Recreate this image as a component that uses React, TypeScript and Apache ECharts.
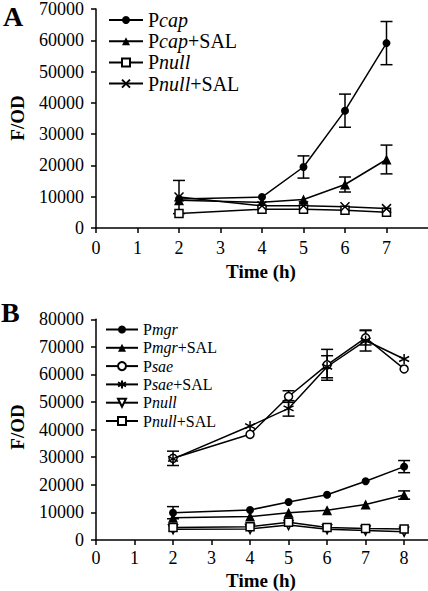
import React, { useEffect, useRef } from "react";
import * as echarts from "echarts";

// Panel A
const timeA = [2, 4, 5, 6, 7];
const pcap = [9300, 9900, 19500, 37500, 59100];
const pcapErr = [0, 0, 3550, 5300, 6900];
const pcapSal = [8900, 8200, 9100, 13900, 21900];
const pcapSalErr = [0, 0, 0, 2400, 4600];
const pnullA = [4650, 6000, 6000, 5700, 5000];
const pnullAErr = [0, 0, 0, 0, 0];
const pnullSalA = [9900, 7100, 7100, 6800, 6200];
const pnullSalAErr = [5300, 0, 0, 0, 0];

// Panel B
const timeB = [2, 4, 5, 6, 7, 8];
const pmgr = [9900, 10900, 13800, 16400, 21300, 26600];
const pmgrErr = [2200, 0, 0, 0, 0, 2200];
const pmgrSal = [8100, 8500, 9900, 10800, 12900, 16300];
const pmgrSalErr = [0, 0, 0, 0, 0, 1500];
const psae = [29600, 38300, 52000, 63500, 73300, 62000];
const psaeErr = [2600, 0, 2100, 5600, 2600, 0];
const psaeSal = [29400, 41300, 47700, 62800, 72300, 65600];
const psaeSalErr = [0, 0, 2800, 4000, 3800, 0];
const pnullB = [3900, 4000, 5400, 3900, 3400, 3000];
const pnullBErr = [0, 0, 0, 0, 0, 0];
const pnullSalB = [4500, 4800, 6400, 4500, 4200, 4000];
const pnullSalBErr = [0, 0, 0, 0, 0, 0];

const yTicksA = [0, 10000, 20000, 30000, 40000, 50000, 60000, 70000];
const yTicksB = [0, 10000, 20000, 30000, 40000, 50000, 60000, 70000, 80000];

const FONT = "Liberation Serif";
const X_PATH = "path://M0,0L10,10M10,0L0,10";
const STAR_PATH = "path://M5,0L5,10M0.7,2.5L9.3,7.5M0.7,7.5L9.3,2.5";

function pairs(xs: number[], ys: number[]) {
  return xs.map((x, i) => [x, ys[i]]);
}

function errData(xs: number[], ys: number[], es: number[]) {
  const out: number[][] = [];
  xs.forEach((x, i) => {
    if (es[i] > 0) out.push([x, ys[i] - es[i], ys[i] + es[i]]);
  });
  return out;
}

function errSeries(idx: number, data: number[][]) {
  return {
    type: "custom",
    xAxisIndex: idx,
    yAxisIndex: idx,
    z: 1,
    silent: true,
    data,
    renderItem: (params: any, api: any) => {
      const x = api.value(0);
      const lo = api.coord([x, api.value(1)]);
      const hi = api.coord([x, api.value(2)]);
      const w = 6;
      const style = { stroke: "#000", lineWidth: 1.5 };
      return {
        type: "group",
        children: [
          { type: "line", shape: { x1: lo[0], y1: lo[1], x2: hi[0], y2: hi[1] }, style },
          { type: "line", shape: { x1: lo[0] - w, y1: lo[1], x2: lo[0] + w, y2: lo[1] }, style },
          { type: "line", shape: { x1: hi[0] - w, y1: hi[1], x2: hi[0] + w, y2: hi[1] }, style },
        ],
      };
    },
  };
}

function lineSeries(
  name: string,
  idx: number,
  xs: number[],
  ys: number[],
  symbol: string,
  size: number,
  fill: string,
  rotate = 0
) {
  return {
    type: "line",
    name,
    xAxisIndex: idx,
    yAxisIndex: idx,
    z: 3,
    data: pairs(xs, ys),
    symbol,
    symbolSize: size,
    symbolRotate: rotate,
    showAllSymbol: true,
    lineStyle: { color: "#000", width: 1.5 },
    itemStyle: { color: fill, borderColor: "#000", borderWidth: fill === "#000" && symbol.indexOf("path") < 0 ? 0 : 1.5 },
  };
}

function legendFormatter(name: string) {
  const n = name.replace(/^[AB]:/, "");
  const m = n.match(/^P([a-z]+)(\+SAL)?$/);
  if (!m) return n;
  return "{r|P}{i|" + m[1] + "}" + (m[2] ? "{r|" + m[2] + "}" : "");
}

function xAxisCfg(idx: number, max: number, margin: number) {
  return {
    type: "value",
    gridIndex: idx,
    min: 0,
    max,
    interval: 1,
    axisLine: { show: true, onZero: false, lineStyle: { color: "#000", width: 1.5 } },
    axisTick: { show: true, length: 5, lineStyle: { color: "#000", width: 1.5 } },
    axisLabel: {
      color: "#000", fontFamily: FONT, fontSize: 18, margin, showMaxLabel: false,
      formatter: (v: number) => String(v),
    },
    splitLine: { show: false },
  };
}

function yAxisCfg(idx: number, ticks: number[]) {
  return {
    type: "value",
    gridIndex: idx,
    min: ticks[0],
    max: ticks[ticks.length - 1],
    interval: ticks[1] - ticks[0],
    axisLine: { show: true, lineStyle: { color: "#000", width: 1.5 } },
    axisTick: { show: true, length: 5, lineStyle: { color: "#000", width: 1.5 } },
    axisLabel: {
      color: "#000", fontFamily: FONT, fontSize: 18, margin: 12,
      formatter: (v: number) => String(v),
    },
    splitLine: { show: false },
  };
}

export default function App() {
  const ref = useRef<HTMLDivElement>(null);
  useEffect(() => {
    if (!ref.current) return;
    const chart = echarts.init(ref.current, null, { renderer: "svg" });
    const richA = {
      r: { fontFamily: FONT, fontSize: 20, color: "#000", lineHeight: 20 },
      i: { fontFamily: FONT, fontSize: 20, fontStyle: "italic", color: "#000", lineHeight: 20 },
    };
    const richB = {
      r: { fontFamily: FONT, fontSize: 16, color: "#000", lineHeight: 17 },
      i: { fontFamily: FONT, fontSize: 16, fontStyle: "italic", color: "#000", lineHeight: 17 },
    };
    const namesA = ["A:Pcap", "A:Pcap+SAL", "A:Pnull", "A:Pnull+SAL"];
    const namesB = ["B:Pmgr", "B:Pmgr+SAL", "B:Psae", "B:Psae+SAL", "B:Pnull", "B:Pnull+SAL"];
    const option: any = {
      animation: false,
      backgroundColor: "#fff",
      grid: [
        { left: 96, top: 7.5, width: 332, height: 220.5 },
        { left: 96, top: 319.3, width: 332, height: 220.7 },
      ],
      xAxis: [xAxisCfg(0, 8, 11), xAxisCfg(1, 8.62, 9)],
      yAxis: [yAxisCfg(0, yTicksA), yAxisCfg(1, yTicksB)],
      legend: [
        {
          data: namesA,
          orient: "vertical",
          left: 103,
          top: 5,
          itemWidth: 34,
          itemHeight: 10,
          itemGap: 1.2,
          selectedMode: false,
          formatter: legendFormatter,
          textStyle: { rich: richA, fontFamily: FONT, fontSize: 20, lineHeight: 20 },
        },
        {
          data: namesB,
          orient: "vertical",
          left: 100,
          top: 316,
          itemWidth: 32,
          itemHeight: 10,
          itemGap: 1.3,
          selectedMode: false,
          formatter: legendFormatter,
          textStyle: { rich: richB, fontFamily: FONT, fontSize: 16, lineHeight: 17 },
        },
      ],
      graphic: [
        { type: "text", left: 3, top: 2, style: { text: "A", fontFamily: FONT, fontWeight: "bold", fontSize: 28, fill: "#000" } },
        { type: "text", left: 1, top: 298, style: { text: "B", fontFamily: FONT, fontWeight: "bold", fontSize: 28, fill: "#000" } },
        {
          type: "text", x: 17.5, y: 118, rotation: Math.PI / 2,
          style: { text: "F/OD", fontFamily: FONT, fontWeight: "bold", fontSize: 19, fill: "#000", align: "center", verticalAlign: "middle" },
        },
        {
          type: "text", x: 17.5, y: 427, rotation: Math.PI / 2,
          style: { text: "F/OD", fontFamily: FONT, fontWeight: "bold", fontSize: 19, fill: "#000", align: "center", verticalAlign: "middle" },
        },
        {
          type: "text", x: 261, y: 271,
          style: { text: "Time (h)", fontFamily: FONT, fontWeight: "bold", fontSize: 19, fill: "#000", align: "center", verticalAlign: "middle" },
        },
        {
          type: "text", x: 261, y: 580,
          style: { text: "Time (h)", fontFamily: FONT, fontWeight: "bold", fontSize: 19, fill: "#000", align: "center", verticalAlign: "middle" },
        },
      ],
      series: [
        errSeries(0, errData(timeA, pcap, pcapErr)),
        errSeries(0, errData(timeA, pcapSal, pcapSalErr)),
        errSeries(0, errData(timeA, pnullA, pnullAErr)),
        errSeries(0, errData(timeA, pnullSalA, pnullSalAErr)),
        lineSeries("A:Pcap", 0, timeA, pcap, "circle", 8, "#000"),
        lineSeries("A:Pcap+SAL", 0, timeA, pcapSal, "triangle", 10, "#000"),
        lineSeries("A:Pnull", 0, timeA, pnullA, "rect", 8, "#fff"),
        lineSeries("A:Pnull+SAL", 0, timeA, pnullSalA, X_PATH, 9, "#000"),
        errSeries(1, errData(timeB, pmgr, pmgrErr)),
        errSeries(1, errData(timeB, pmgrSal, pmgrSalErr)),
        errSeries(1, errData(timeB, psae, psaeErr)),
        errSeries(1, errData(timeB, psaeSal, psaeSalErr)),
        errSeries(1, errData(timeB, pnullB, pnullBErr)),
        errSeries(1, errData(timeB, pnullSalB, pnullSalBErr)),
        lineSeries("B:Pmgr", 1, timeB, pmgr, "circle", 8, "#000"),
        lineSeries("B:Pmgr+SAL", 1, timeB, pmgrSal, "triangle", 10, "#000"),
        lineSeries("B:Psae", 1, timeB, psae, "circle", 8, "#fff"),
        lineSeries("B:Psae+SAL", 1, timeB, psaeSal, STAR_PATH, 10, "#000"),
        lineSeries("B:Pnull", 1, timeB, pnullB, "triangle", 9, "#fff", 180),
        lineSeries("B:Pnull+SAL", 1, timeB, pnullSalB, "rect", 8, "#fff"),
      ],
    };
    chart.setOption(option);
    return () => chart.dispose();
  }, []);
  return (
    <div
      ref={ref}
      style={{ position: "absolute", left: 0, top: 0, width: 428, height: 591, background: "#fff" }}
    />
  );
}
